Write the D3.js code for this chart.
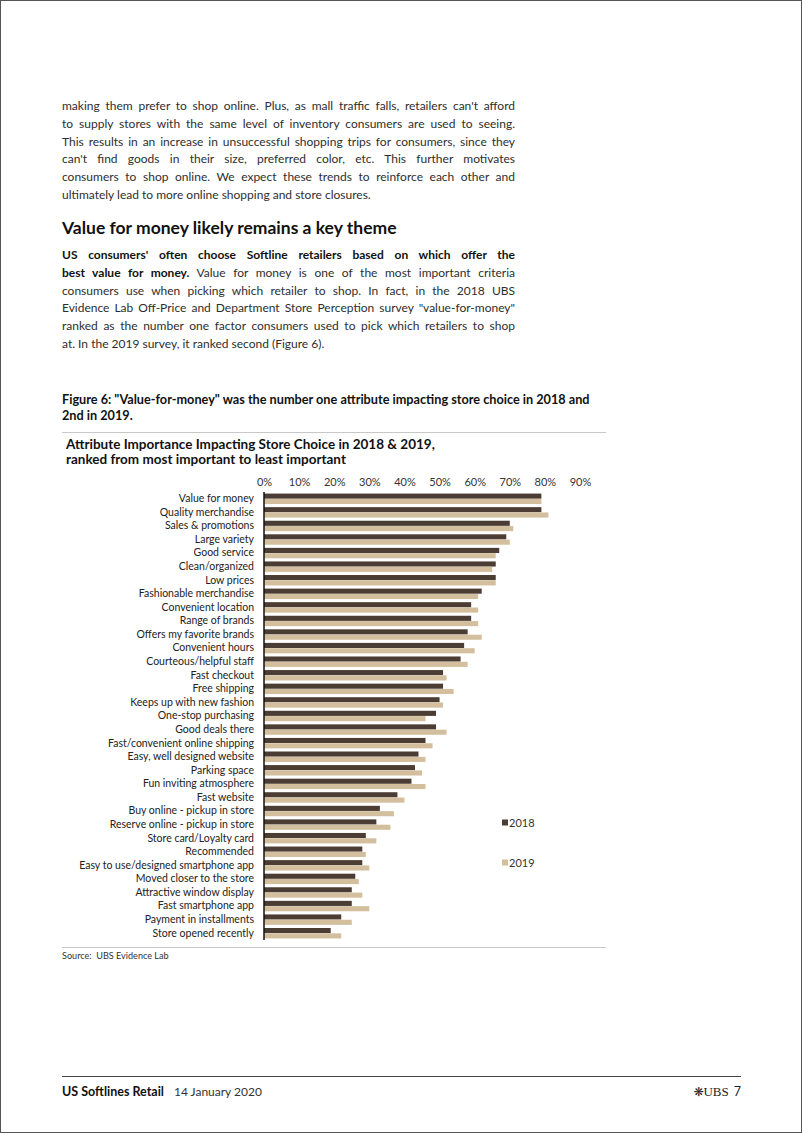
<!DOCTYPE html>
<html><head><meta charset="utf-8">
<script src="https://cdn.jsdelivr.net/npm/d3@7"></script>
<style>body{margin:0;background:#fff}svg{display:block}</style>
</head><body><svg id="page" width="802" height="1133"></svg>
<script>
// ---------- data ----------
const categories = [
  "Value for money","Quality merchandise","Sales & promotions","Large variety","Good service",
  "Clean/organized","Low prices","Fashionable merchandise","Convenient location","Range of brands",
  "Offers my favorite brands","Convenient hours","Courteous/helpful staff","Fast checkout","Free shipping",
  "Keeps up with new fashion","One-stop purchasing","Good deals there","Fast/convenient online shipping",
  "Easy, well designed website","Parking space","Fun inviting atmosphere","Fast website",
  "Buy online - pickup in store","Reserve online - pickup in store","Store card/Loyalty card","Recommended",
  "Easy to use/designed smartphone app","Moved closer to the store","Attractive window display",
  "Fast smartphone app","Payment in installments","Store opened recently"];
const values2018 = [79,79,70,69,67,66,66,62,59,59,58,57,56,51,51,50,49,49,46,44,43,42,38,33,32,29,28,28,26,25,25,22,19];
const values2019 = [79,81,71,70,66,65,66,61,61,61,62,60,58,52,54,51,46,52,48,46,45,46,40,37,36,32,29,30,27,28,30,25,22];
const seriesNames = ["2018","2019"];
const seriesColors = ["#4b3d33","#d3bf9e"];
const tickValues = [0,10,20,30,40,50,60,70,80,90];

const para1 = [
  "making them prefer to shop online. Plus, as mall traffic falls, retailers can't afford",
  "to supply stores with the same level of inventory consumers are used to seeing.",
  "This results in an increase in unsuccessful shopping trips for consumers, since they",
  "can't find goods in their size, preferred color, etc. This further motivates",
  "consumers to shop online. We expect these trends to reinforce each other and",
  "ultimately lead to more online shopping and store closures."];
const heading = "Value for money likely remains a key theme";
const para2 = [
  [["US consumers' often choose Softline retailers based on which offer the",true]],
  [["best value for money.",true],[" Value for money is one of the most important criteria",false]],
  [["consumers use when picking which retailer to shop. In fact, in the 2018 UBS",false]],
  [["Evidence Lab Off-Price and Department Store Perception survey \"value-for-money\"",false]],
  [["ranked as the number one factor consumers used to pick which retailers to shop",false]],
  [["at. In the 2019 survey, it ranked second (Figure 6).",false]]];
const caption = ["Figure 6: \"Value-for-money\" was the number one attribute impacting store choice in 2018 and","2nd in 2019."];
const chartTitle = ["Attribute Importance Impacting Store Choice in 2018 & 2019,","ranked from most important to least important"];
const sourceText = "Source:  UBS Evidence Lab";

// ---------- page ----------
const FONT = "Lato, 'Open Sans', sans-serif";
const svg = d3.select("#page");
svg.append("rect").attr("x",0.5).attr("y",0.5).attr("width",801).attr("height",1132)
  .attr("fill","#fff").attr("stroke","#555").attr("stroke-width",1);

const textColor = "#2e2e2e";
const left = 62, right = 515, lh = 17.8;

function justify(sel, width, last){
  if(last) return;
  const node = sel.node();
  const len = node.getComputedTextLength();
  const txt = node.textContent;
  const spaces = (txt.match(/ /g)||[]).length;
  if(spaces>0) sel.attr("word-spacing", (width-len)/spaces);
}

const g1 = svg.append("g").attr("font-family",FONT).attr("font-size",12).attr("fill",textColor);
para1.forEach((line,i)=>{
  const t = g1.append("text").attr("x",left).attr("y",110+i*lh).text(line);
  justify(t, right-left, i===para1.length-1);
});
svg.append("text").attr("x",left).attr("y",234).attr("font-family",FONT).attr("font-size",17.5)
  .attr("font-weight","bold").attr("fill","#111").text(heading);
const g2 = svg.append("g").attr("font-family",FONT).attr("font-size",12).attr("fill",textColor);
para2.forEach((parts,i)=>{
  const t = g2.append("text").attr("x",left).attr("y",259+i*lh);
  parts.forEach(p=>t.append("tspan").attr("font-weight",p[1]?"bold":"normal").attr("fill",p[1]?"#111":textColor).text(p[0]));
  justify(t, right-left, i===para2.length-1);
});
caption.forEach((c,i)=>svg.append("text").attr("x",left).attr("y",404+i*16).attr("font-family",FONT)
  .attr("font-size",12.7).attr("font-weight","bold").attr("fill","#111").text(c));
svg.append("line").attr("x1",left).attr("x2",606).attr("y1",432.5).attr("y2",432.5).attr("stroke","#c8c8c8");
chartTitle.forEach((c,i)=>svg.append("text").attr("x",66).attr("y",449+i*15).attr("font-family",FONT)
  .attr("font-size",13.5).attr("font-weight","bold").attr("fill","#111").text(c));

// ---------- chart ----------
const x = d3.scaleLinear().domain([0,90]).range([264,580]);
const y = d3.scaleBand().domain(categories).range([492,940]).paddingInner(0.2).paddingOuter(0.1);
const ySub = d3.scaleBand().domain(seriesNames).range([0,y.bandwidth()]).padding(0.04);
const color = d3.scaleOrdinal().domain(seriesNames).range(seriesColors);

const chart = svg.append("g").attr("font-family",FONT);
const rows = categories.map((c,i)=>({cat:c, vals:[values2018[i],values2019[i]]}));
const rowG = chart.selectAll("g.row").data(rows).join("g").attr("class","row")
  .attr("transform",d=>`translate(0,${y(d.cat)})`);
rowG.selectAll("rect").data(d=>d.vals.map((v,j)=>({s:seriesNames[j],v})))
  .join("rect").attr("x",x(0)).attr("y",d=>ySub(d.s)).attr("height",ySub.bandwidth())
  .attr("width",d=>x(d.v)-x(0)).attr("fill",d=>color(d.s));

// category axis
const yAxis = chart.append("g").attr("transform",`translate(${x(0)},0)`)
  .call(d3.axisLeft(y).tickSize(0).tickPadding(10));
yAxis.select(".domain").attr("stroke","#111").attr("stroke-width",1.5).attr("d","M0,492V940");
yAxis.selectAll("text").attr("font-size",10.5).attr("fill","#222").attr("font-family",FONT);

// value axis (top)
const xAxis = chart.append("g").attr("transform",`translate(0,487)`)
  .call(d3.axisTop(x).tickValues(tickValues).tickFormat(d=>d+"%").tickSize(0).tickPadding(0));
xAxis.select(".domain").remove();
xAxis.selectAll("text").attr("font-size",11).attr("fill","#333").attr("font-family",FONT).attr("dy","-0.1em");

// legend
const legend = chart.append("g");
seriesNames.forEach((s,i)=>{
  const ly = 823 + i*40;
  legend.append("rect").attr("x",502).attr("y",ly-3.5).attr("width",6).attr("height",6).attr("fill",color(s));
  legend.append("text").attr("x",509).attr("y",ly+4).attr("font-size",11).attr("fill","#333").text(s);
});

svg.append("line").attr("x1",left).attr("x2",606).attr("y1",947.5).attr("y2",947.5).attr("stroke","#c8c8c8");
svg.append("text").attr("x",left).attr("y",959).attr("font-family",FONT).attr("font-size",9.1).attr("fill","#333")
  .style("white-space","pre").text(sourceText);

// footer
svg.append("line").attr("x1",left).attr("x2",741).attr("y1",1076.5).attr("y2",1076.5).attr("stroke","#444").attr("stroke-width",1.2);
const ft = svg.append("text").attr("x",left).attr("y",1096).attr("font-family",FONT).attr("font-size",12.5).attr("fill","#111");
ft.append("tspan").attr("font-weight","bold").text("US Softlines Retail");
ft.append("tspan").attr("dx",10).attr("font-size",12).attr("fill","#333").text("14 January 2020");
const fr = svg.append("text").attr("x",741).attr("y",1096).attr("text-anchor","end").attr("fill","#222");
fr.append("tspan").attr("font-family","DejaVu Sans").attr("font-size",12).text("❋");
fr.append("tspan").attr("font-family","'Liberation Serif', serif").attr("font-size",13).text("UBS");
fr.append("tspan").attr("font-family",FONT).attr("font-size",12.5).attr("dx",5).text("7");
</script></body></html>
